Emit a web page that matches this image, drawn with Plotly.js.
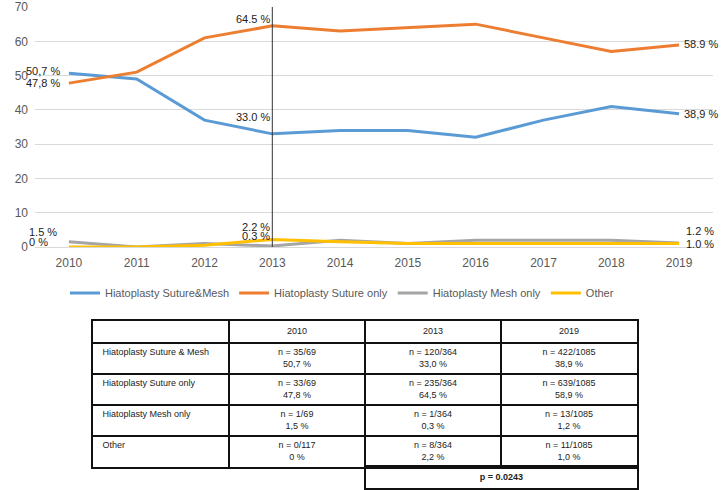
<!DOCTYPE html>
<html>
<head>
<meta charset="utf-8">
<script src="https://cdn.plot.ly/plotly-3.0.1.min.js"></script>
<style>
  body { margin: 0; background: #fff; }
  #chart { width: 722px; height: 490px; }
</style>
</head>
<body>
<div id="chart"></div>
<script>
const CHART = document.getElementById("chart");

var years = [2010, 2011, 2012, 2013, 2014, 2015, 2016, 2017, 2018, 2019];
var sutureMesh = [50.7, 49, 37, 33.0, 34, 34, 32, 37, 41, 38.9];
var sutureOnly = [47.8, 51, 61, 64.5, 63, 64, 65, 61, 57, 58.9];
var meshOnly = [1.5, 0, 1, 0.3, 2, 1, 2, 2, 2, 1.2];
var other = [0, 0, 0.5, 2.2, 1.5, 1, 1, 1, 1, 1.0];

// point labels as printed on the chart (mixed decimal marks kept)
var sutureMeshLbl = ["50,7 %", "", "", "33.0 %", "", "", "", "", "", "38,9 %"];
var sutureOnlyLbl = ["47,8 %", "", "", "64.5 %", "", "", "", "", "", "58.9 %"];
var meshOnlyLbl = ["1.5 %", "", "", "0.3 %", "", "", "", "", "", "1.2 %"];
var otherLbl = ["0 %", "", "", "2.2 %", "", "", "", "", "", "1.0 %"];

var markYear = 2013;

// table
var tableHead = ["", "2010", "2013", "2019"];
var rowNames = ["Hiatoplasty Suture & Mesh", "Hiatoplasty Suture only", "Hiatoplasty Mesh only", "Other"];
var col2010 = ["n = 35/69<br>50,7 %", "n = 33/69<br>47,8 %", "n = 1/69<br>1,5 %", "n = 0/117<br>0 %"];
var col2013 = ["n = 120/364<br>33,0 %", "n = 235/364<br>64,5 %", "n = 1/364<br>0,3 %", "n = 8/364<br>2,2 %"];
var col2019 = ["n = 422/1085<br>38,9 %", "n = 639/1085<br>58,9 %", "n = 13/1085<br>1,2 %", "n = 11/1085<br>1,0 %"];
var pValue = "p = 0.0243";

var COLORS = ["#5B9BD5", "#ED7D31", "#A5A5A5", "#FFC000"];
var NAMES = ["Hiatoplasty Suture&Mesh", "Hiatoplasty Suture only", "Hiatoplasty Mesh only", "Other"];
var SERIES = [sutureMesh, sutureOnly, meshOnly, other];
var LABELS = [sutureMeshLbl, sutureOnlyLbl, meshOnlyLbl, otherLbl];
// label offsets per series at 2010 / 2013 / 2019 : [xshift, yshift]
var OFFS = [
    {0: [-7, 2], 3: [0, 17], 9: [3, 0]},
    {0: [-7, 0], 3: [0, 7], 9: [3, 1]},
    {0: [-10, 10], 3: [0, 10], 9: [5, 12]},
    {0: [-19, 5], 3: [0, 12], 9: [5, 0]}
];

var traces = [];
var annos = [];
SERIES.forEach(function (y, s) {
    traces.push({
        x: years, y: y, name: NAMES[s],
        type: "scatter", mode: "lines",
        line: {color: COLORS[s], width: 3},
        hoverinfo: "x+y"
    });
    LABELS[s].forEach(function (t, i) {
        if (!t) return;
        var o = OFFS[s][i];
        annos.push({
            x: years[i], y: y[i], xref: "x", yref: "y",
            text: t, showarrow: false,
            xanchor: i === 9 ? "left" : "right", yanchor: "middle",
            xshift: o[0], yshift: o[1],
            font: {family: "Liberation Sans, Arial", size: 11, color: "#222"}
        });
    });
});

// table cells as text on their own axes
var HEAD_H = 22, ROW_H = 31;
var TF = {family: "Liberation Sans, Arial", size: 9, color: "#222"};
var rowTops = rowNames.map(function (_, i) { return HEAD_H + ROW_H * i; });
var bodyCols = [col2010, col2013, col2019];

var hx = [], hy = [], ht = [];
tableHead.forEach(function (t, c) { hx.push(c + 0.5); hy.push(HEAD_H / 2); ht.push(t); });
var cx = [], cy = [], ct = [];
bodyCols.forEach(function (col, c) {
    col.forEach(function (t, r) { cx.push(c + 1.5); cy.push(rowTops[r] + ROW_H / 2); ct.push(t); });
});
var nx = [], ny = [];
rowNames.forEach(function (t, r) { nx.push(0.07); ny.push(rowTops[r] + 10); });

function textTrace(x, y, t, pos, xa, ya) {
    return {
        x: x, y: y, text: t, type: "scatter", mode: "text",
        textposition: pos, textfont: TF,
        xaxis: xa, yaxis: ya, showlegend: false, hoverinfo: "skip", cliponaxis: false
    };
}
traces.push(textTrace(hx, hy, ht, "middle center", "x2", "y2"));
traces.push(textTrace(cx, cy, ct, "middle center", "x2", "y2"));
traces.push(textTrace(nx, ny, rowNames, "middle right", "x2", "y2"));
traces.push(textTrace([0.5], [0.5], ["<b>" + pValue + "</b>"], "middle center", "x3", "y3"));

var tableH = HEAD_H + ROW_H * rowNames.length;
var border = {color: "#111", width: 1.5};

var layout = {
    width: 722, height: 490,
    margin: {l: 0, r: 0, t: 0, b: 0},
    paper_bgcolor: "#fff", plot_bgcolor: "#fff",
    font: {family: "Liberation Sans, Arial", size: 12, color: "#595959"},
    showlegend: true,
    legend: {
        orientation: "h", x: 0.09, xanchor: "left", y: 0.402, yanchor: "middle",
        font: {family: "Liberation Sans, Arial", size: 11, color: "#595959"},
        itemwidth: 30
    },
    xaxis: {
        domain: [0.0485, 0.9875],
        range: [2009.5, 2019.5], dtick: 1, tick0: 2010,
        showgrid: false, showline: false, zeroline: false,
        ticks: "", ticklabelstandoff: 7,
        tickfont: {size: 12, color: "#595959"},
        fixedrange: true
    },
    yaxis: {
        domain: [0.4959, 0.9857],
        range: [0, 70], dtick: 10,
        showgrid: true, gridcolor: "#d9d9d9", gridwidth: 1,
        zeroline: true, zerolinecolor: "#d9d9d9", zerolinewidth: 1,
        showline: false, ticks: "", ticklabelstandoff: 6,
        tickfont: {size: 12, color: "#595959"},
        fixedrange: true
    },
    xaxis2: {
        domain: [0.1288, 0.8823], anchor: "y2",
        range: [0, tableHead.length], tickmode: "array",
        tickvals: tableHead.slice(1).map(function (_, i) { return i + 1; }),
        showgrid: true, gridcolor: border.color, gridwidth: border.width,
        showticklabels: false, ticks: "", zeroline: false,
        showline: true, mirror: true, linecolor: border.color, linewidth: border.width,
        fixedrange: true
    },
    yaxis2: {
        domain: [0.0469, 0.3449], anchor: "x2",
        range: [tableH, 0], tickmode: "array",
        tickvals: rowTops,
        showgrid: true, gridcolor: border.color, gridwidth: border.width,
        showticklabels: false, ticks: "", zeroline: false,
        showline: true, mirror: true, linecolor: border.color, linewidth: border.width,
        fixedrange: true
    },
    xaxis3: {
        domain: [0.5069, 0.8823], anchor: "y3", range: [0, 1],
        showgrid: false, showticklabels: false, ticks: "", zeroline: false,
        showline: true, mirror: true, linecolor: border.color, linewidth: border.width,
        fixedrange: true
    },
    yaxis3: {
        domain: [0.0041, 0.0469], anchor: "x3", range: [0, 1],
        showgrid: false, showticklabels: false, ticks: "", zeroline: false,
        showline: true, mirror: true, linecolor: border.color, linewidth: border.width,
        fixedrange: true
    },
    annotations: annos,
    shapes: [{
        type: "line", xref: "x", yref: "y",
        x0: markYear, x1: markYear, y0: 0, y1: 70,
        line: {color: "#333", width: 1}
    }]
};

Plotly.newPlot(CHART, traces, layout, {displayModeBar: false});
</script>
</body>
</html>
